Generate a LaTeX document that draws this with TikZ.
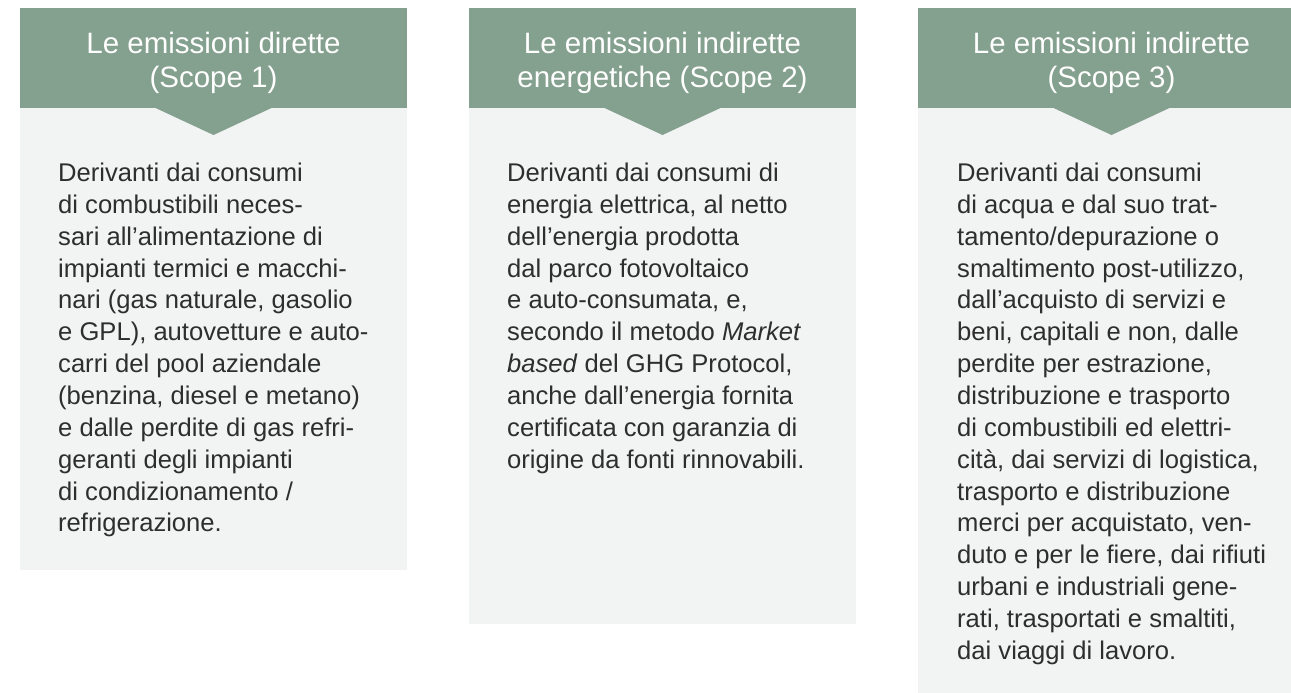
\documentclass[tikz,border=0pt]{standalone}
\usepackage{fontspec}
\setmainfont{Liberation Sans}
\definecolor{hdr}{HTML}{84A08E}
\definecolor{bodybg}{HTML}{F2F3F3}
\definecolor{txt}{HTML}{2E2E2E}
\begin{document}
\begin{tikzpicture}[x=1pt,y=-1pt,
  hdrtext/.style={text=white,font=\fontsize{29.5}{34}\selectfont,align=center,inner sep=0pt},
  bodytext/.style={text=txt,font=\fontsize{25.6}{31.85}\selectfont,align=left,inner sep=0pt,anchor=base west}]
\useasboundingbox (0,0) rectangle (1291,693);
\clip (0,0) rectangle (1291,693);
% column 1
\fill[bodybg] (20,108) rectangle (407,570);
\fill[hdr] (20,8) rectangle (407,108);
\fill[hdr] (154.5,107.5) -- (272.5,107.5) -- (213.5,135) -- cycle;
% column 2
\fill[bodybg] (469,108) rectangle (856,624);
\fill[hdr] (469,8) rectangle (856,108);
\fill[hdr] (603.5,107.5) -- (721.5,107.5) -- (662.5,135) -- cycle;
% column 3
\fill[bodybg] (918,108) rectangle (1305,700);
\fill[hdr] (918,8) rectangle (1305,108);
\fill[hdr] (1052.5,107.5) -- (1170.5,107.5) -- (1111.5,135) -- cycle;
% headings
\node[hdrtext] (h1) at (213.5,62.5) {Le emissioni dirette\\(Scope 1)};
\node[hdrtext] (h2) at (662.5,62.5) {Le emissioni indirette\\energetiche (Scope 2)};
\node[hdrtext] (h3) at (1111.5,62.5) {Le emissioni indirette\\(Scope 3)};
% bodies (anchored at the baseline of their last line)
\node[bodytext] (b1) at (58,531.85) {Derivanti dai consumi\\
di combustibili neces-\\
sari all’alimentazione di\\
impianti termici e macchi-\\
nari (gas naturale, gasolio\\
e GPL), autovetture e auto-\\
carri del pool aziendale\\
(benzina, diesel e metano)\\
e dalle perdite di gas refri-\\
geranti degli impianti\\
di condizionamento /\\
refrigerazione.};
\node[bodytext] (b2) at (507,468.15) {Derivanti dai consumi di\\
energia elettrica, al netto\\
dell’energia prodotta\\
dal parco fotovoltaico\\
e auto-consumata, e,\\
secondo il metodo \textit{Market}\\
\textit{based} del GHG Protocol,\\
anche dall’energia fornita\\
certificata con garanzia di\\
origine da fonti rinnovabili.};
\node[bodytext] (b3) at (957,659.25) {Derivanti dai consumi\\
di acqua e dal suo trat-\\
tamento/depurazione o\\
smaltimento post-utilizzo,\\
dall’acquisto di servizi e\\
beni, capitali e non, dalle\\
perdite per estrazione,\\
distribuzione e trasporto\\
di combustibili ed elettri-\\
cità, dai servizi di logistica,\\
trasporto e distribuzione\\
merci per acquistato, ven-\\
duto e per le fiere, dai rifiuti\\
urbani e industriali gene-\\
rati, trasportati e smaltiti,\\
dai viaggi di lavoro.};
\end{tikzpicture}
\end{document}
